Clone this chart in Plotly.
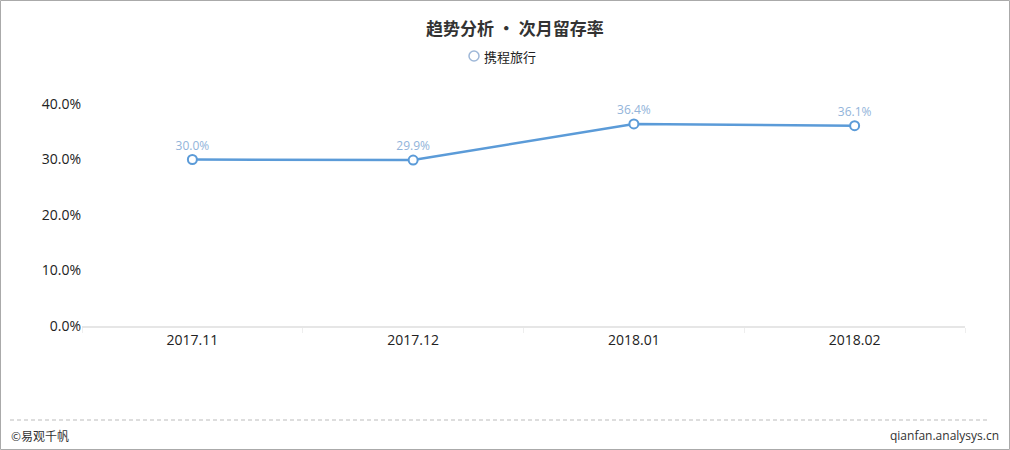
import plotly.graph_objects as go

categories = ["2017.11", "2017.12", "2018.01", "2018.02"]
values = [30.0, 29.9, 36.4, 36.1]
series_name = "携程旅行"
title_text = "趋势分析 • 次月留存率"
y_ticks = [0, 10, 20, 30, 40]
y_tick_labels = ["0.0%", "10.0%", "20.0%", "30.0%", "40.0%"]

FONT = "Open Sans, Noto Sans CJK SC, sans-serif"
CJK = "Noto Sans CJK SC, sans-serif"
LINE = "#5b9bd8"

W, H = 1010, 450
ML, MR, MT, MB = 82, 45, 104, 124

fig = go.Figure()
fig.add_trace(go.Scatter(
    x=categories, y=values, name=series_name,
    mode="lines+markers+text",
    line=dict(color=LINE, width=2.5),
    marker=dict(size=9, color="white", line=dict(color=LINE, width=2)),
    text=[f"{v:.1f}%" for v in values],
    textposition="top center",
    textfont=dict(color="#92b4da", size=12, family=FONT),
    showlegend=False,
    cliponaxis=False,
    hoverinfo="skip",
))

fig.update_layout(
    width=W, height=H,
    margin=dict(l=ML, r=MR, t=MT, b=MB),
    paper_bgcolor="white", plot_bgcolor="white",
    font=dict(family=FONT, color="#222"),
    showlegend=False,
    xaxis=dict(
        type="category", range=[-0.5, 3.5],
        showgrid=False, showline=True, linecolor="#e6e6e6", linewidth=1.5,
        ticks="outside", tickson="boundaries", ticklen=5, tickcolor="#eeeeee",
        tickfont=dict(size=14, color="#222", family=FONT), zeroline=False,
    ),
    yaxis=dict(
        range=[0, 40], tickvals=y_ticks, ticktext=y_tick_labels,
        showgrid=False, showline=False, zeroline=False,
        tickfont=dict(size=14, color="#222", family=FONT), ticklen=0,
    ),
)

plot_w = W - ML - MR
plot_h = H - MT - MB

def px_to_paper(xpx, ypx):
    return (xpx - ML) / plot_w, (H - MB - ypx) / plot_h

ann = []
def add_px(text, xpx, ypx, size, color, xanchor="center", bold=False, family=FONT):
    x, y = px_to_paper(xpx, ypx)
    ann.append(dict(text=("<b>%s</b>" % text) if bold else text, xref="paper", yref="paper",
                    x=x, y=y, xanchor=xanchor, yanchor="middle", showarrow=False,
                    font=dict(size=size, color=color, family=family)))

add_px(title_text, 515, 27, 17, "#333", bold=True, family=CJK)
add_px(series_name, 482, 56, 13, "#222", xanchor="left", family=CJK)
add_px("©易观千帆", 9, 435, 12, "#333", xanchor="left", family=CJK)
add_px("qianfan.analysys.cn", 1001, 435, 12, "#333", xanchor="right")
fig.layout.annotations = ann

lx0, ly0 = px_to_paper(469, 51)
lx1, ly1 = px_to_paper(479, 61)
dx0, dy0 = px_to_paper(10, 420)
dx1, _ = px_to_paper(990, 420)
bx0, by0 = px_to_paper(0.5, 449.5)
bx1, by1 = px_to_paper(1009.5, 0.5)
fig.layout.shapes = [
    dict(type="circle", xref="paper", yref="paper", x0=lx0, x1=lx1, y0=ly1, y1=ly0,
         line=dict(color="#9fb8d8", width=1.5), fillcolor="white"),
    dict(type="line", xref="paper", yref="paper", x0=dx0, x1=dx1, y0=dy0, y1=dy0,
         line=dict(color="#bbbbbb", width=1, dash="4px,3px")),
    dict(type="rect", xref="paper", yref="paper", x0=bx0, x1=bx1, y0=by0, y1=by1,
         line=dict(color="#aaaaaa", width=1)),
]

fig.write_html("out.html", config={"displayModeBar": False},
               post_script="document.body.style.margin='0';document.body.style.padding='0';")
